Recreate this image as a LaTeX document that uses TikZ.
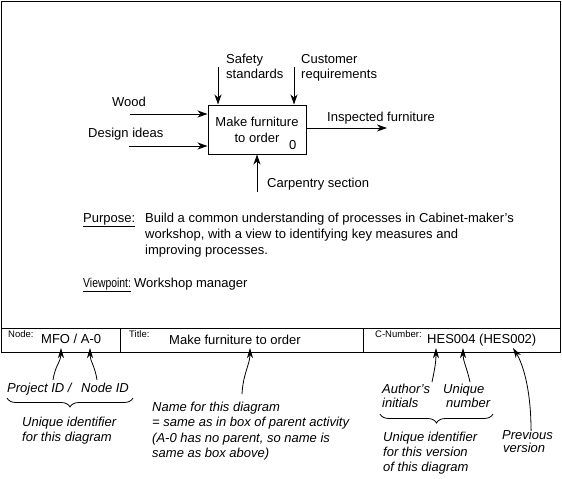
\documentclass[tikz,border=0pt]{standalone}
\usepackage{fontspec}
\usepackage{graphicx}
\setmainfont{Liberation Sans}
\usetikzlibrary{arrows.meta,decorations.pathreplacing}
\begin{document}
\begin{tikzpicture}[x=1pt,y=-1pt,
  lbl/.style={anchor=base west,inner sep=0pt,font=\fontsize{13}{15}\selectfont},
  ital/.style={anchor=base west,inner sep=0pt,font=\fontsize{13}{15}\selectfont\itshape},
  small/.style={anchor=base west,inner sep=0pt,font=\fontsize{9.5}{11}\selectfont},
  arr/.style={line width=1pt,-{Stealth[length=10pt,width=7pt,inset=3pt]}},
  ann/.style={line width=0.8pt,-{Stealth[length=10pt,width=6pt,inset=3pt]}},
  brc/.style={line width=0.8pt,decorate,decoration={brace,amplitude=9pt,mirror}},
  actbox/.style={draw,line width=1pt,minimum width=98pt,minimum height=49pt,inner sep=0pt,align=center,font=\fontsize{13}{16}\selectfont}]
\useasboundingbox (0,0) rectangle (562,479);
% frame and table
\draw[line width=1pt] (1,1) rectangle (560,352);
\coordinate (tl) at (1,328);
\coordinate (tr) at (560,328);
\draw[line width=1pt] (tl) -- (tr);
\draw[line width=1pt] (120,328) -- (120,352);
\draw[line width=1pt] (363,328) -- (363,352);
% activity box
\node[actbox] (box) at (257,129.5) {Make furniture\\to order};
\node[lbl] (num) at (289,149.5) {0};
% labels
\node[lbl] (wood) at (112,106.5) {Wood};
\node[lbl] (design) at (88,137.5) {Design ideas};
\node[lbl] (safe1) at (226,63.5) {Safety};
\node[lbl] (safe2) at (226,78.5) {standards};
\node[lbl] (cust1) at (301,63.5) {Customer};
\node[lbl] (cust2) at (301,78.5) {requirements};
\node[lbl] (insp) at (327,121.5) {Inspected furniture};
\node[lbl] (carp) at (267,187.5) {Carpentry section};
% arrows
\coordinate (wt) at (130,114);
\coordinate (dt) at (129,146);
\coordinate (st) at (218,67);
\coordinate (ct) at (294,67);
\coordinate (ie) at (387,128);
\coordinate (mt) at (257,192);
\draw[arr] (wt) -- (box.west |- wt);
\draw[arr] (dt) -- (box.west |- dt);
\draw[arr] (st) -- (st |- box.north);
\draw[arr] (ct) -- (ct |- box.north);
\draw[arr] (box.east |- ie) -- (ie);
\draw[arr] (mt) -- (box.south);
% purpose / viewpoint
\node[lbl] (purp) at (83,222.5) {\underline{Purpose:}};
\node[lbl] (p1) at (145,222.5) {Build a common understanding of processes in Cabinet-maker's};
\node[lbl] (p2) at (145,238.5) {workshop, with a view to identifying key measures and};
\node[lbl] (p3) at (145,254.5) {improving processes.};
\node[lbl] (view) at (83,287.5) {\underline{\scalebox{0.8}[1]{Viewpoint:}}};
\node[lbl] (v1) at (134,287.5) {Workshop manager};
% table texts
\node[small] (nodel) at (8,337.5) {Node:};
\node[lbl] (nodev) at (41,343.5) {MFO / A-0};
\node[small] (titl) at (129,337.5) {Title:};
\node[lbl] (titv) at (169,344.5) {Make furniture to order};
\node[small] (cnl) at (375,337.5) {C-Number:};
\node[lbl] (cnv) at (427,343.5) {HES004 (HES002)};
% annotations left
\node[ital] (proj) at (7,392.5) {Project ID /};
\node[ital] (nid) at (81,392.5) {Node ID};
\coordinate (b1a) at (7,398);
\coordinate (b1b) at (133,398);
\draw[brc] (b1a) -- (b1b);
\node[ital] (u1) at (22,426.5) {Unique identifier};
\node[ital] (u2) at (22,441.5) {for this diagram};
\coordinate (a1t) at (53,380);
\coordinate (a1h) at (61,348);
\coordinate (a2t) at (97,380);
\coordinate (a2h) at (90,348);
\draw[ann] (a1t) .. controls +(2,-14) and +(0,13) .. (a1h);
\draw[ann] (a2t) .. controls +(-2,-14) and +(0,13) .. (a2h);
% annotations middle
\node[ital] (n1) at (152,411.5) {Name for this diagram};
\node[ital] (n2) at (152,426.5) {= same as in box of parent activity};
\node[ital] (n3) at (152,442.5) {(A-0 has no parent, so name is};
\node[ital] (n4) at (152,457.5) {same as box above)};
\coordinate (a3t) at (242,394);
\coordinate (a3h) at (250,348);
\draw[ann] (a3t) .. controls +(1,-20) and +(0,16) .. (a3h);
% annotations right
\node[ital] (au1) at (382,393.5) {Author's};
\node[ital] (au2) at (382,407.5) {initials};
\node[ital] (un1) at (443,393.5) {Unique};
\node[ital] (un2) at (446,407.5) {number};
\coordinate (b2a) at (380,414);
\coordinate (b2b) at (493,414);
\draw[brc] (b2a) -- (b2b);
\node[ital] (ui1) at (383,441.5) {Unique identifier};
\node[ital] (ui2) at (383,456.5) {for this version};
\node[ital] (ui3) at (383,471.5) {of this diagram};
\node[ital] (pv1) at (502,439.5) {Previous};
\node[ital] (pv2) at (503,452.5) {version};
\coordinate (a4t) at (432,382);
\coordinate (a4h) at (436,348);
\coordinate (a5t) at (470,382);
\coordinate (a5h) at (463,348);
\coordinate (a6t) at (531,430);
\coordinate (a6h) at (513,348);
\draw[ann] (a4t) .. controls +(3,-14) and +(0,13) .. (a4h);
\draw[ann] (a5t) .. controls +(-3,-14) and +(0,13) .. (a5h);
\draw[ann] (a6t) .. controls +(0,-40) and +(10,16) .. (a6h);
\end{tikzpicture}
\end{document}
